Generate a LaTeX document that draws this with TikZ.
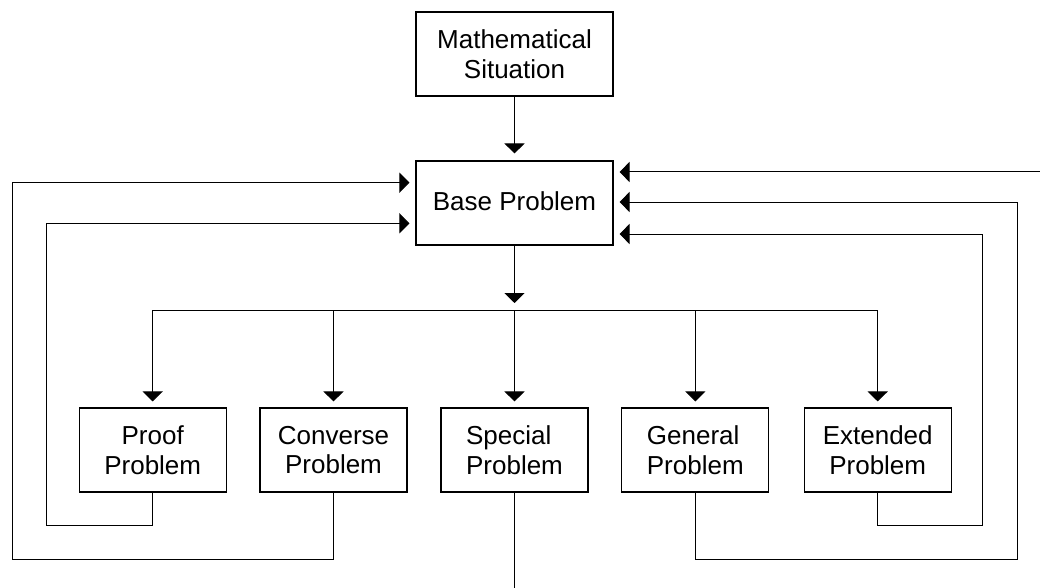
\documentclass[tikz,border=0pt]{standalone}
\usepackage{fontspec}
\setmainfont{Liberation Sans}
\usetikzlibrary{arrows.meta,calc}
\begin{document}
\begin{tikzpicture}[x=1pt,y=-1pt,
  box/.style={draw=black,line width=1.1pt,minimum width=147pt,minimum height=84pt,inner sep=0pt,align=center,
    font=\fontsize{26}{29.5}\selectfont},
  bigbox/.style={box,minimum width=197pt},
  conn/.style={draw=black,line width=1pt},
  arr/.style={conn,-{Triangle[width=20pt,length=10pt]},shorten >=6pt}
]
\useasboundingbox (0,0) rectangle (1040,588);
\node[bigbox] (math) at (514.5,54) {Mathematical\\Situation};
\node[bigbox] (base) at (514.5,203) {\raisebox{3pt}{Base Problem}};
\node[box] (proof) at (152.7,450) {Proof\\Problem};
\node[box] (conv) at (333.5,450) {Converse\\Problem};
\node[box,align=left] (spec) at (514.5,450) {Special\\Problem};
\node[box,align=left] (gen) at (695.3,450) {General\\Problem};
\node[box] (ext) at (877.7,450) {Extended\\Problem};
\coordinate (bus) at (514.5,310);
\coordinate (pC) at (46.3,525.3);
\coordinate (cC) at (12,559.7);
\coordinate (gC) at (1017,559.7);
\coordinate (eC) at (982.5,525.3);
\coordinate (rin) at (1040,172);
\coordinate (sout) at (514.5,588);
% main flow
\draw[arr,shorten >=7pt] (math) -- (base);
\draw[arr,shorten >=7pt] (base) -- (bus);
\draw[conn] (proof |- bus) -- (ext |- bus);
\foreach \n in {proof,conv,spec,gen,ext}
  \draw[arr] (\n |- bus) -- (\n);
% special continues down
\draw[conn] (spec) -- (sout);
% feedback loops
\draw[arr] (proof.south) |- (pC) |- ($(base.west)+(0,20.3)$);
\draw[arr] (conv.south) |- (cC) |- ($(base.west)+(0,-20.3)$);
\draw[arr] (gen.south) |- (gC) |- ($(base.east)+(0,-1)$);
\draw[arr] (ext.south) |- (eC) |- ($(base.east)+(0,31)$);
\draw[arr] (rin) -- (base.east |- rin);
\end{tikzpicture}
\end{document}
